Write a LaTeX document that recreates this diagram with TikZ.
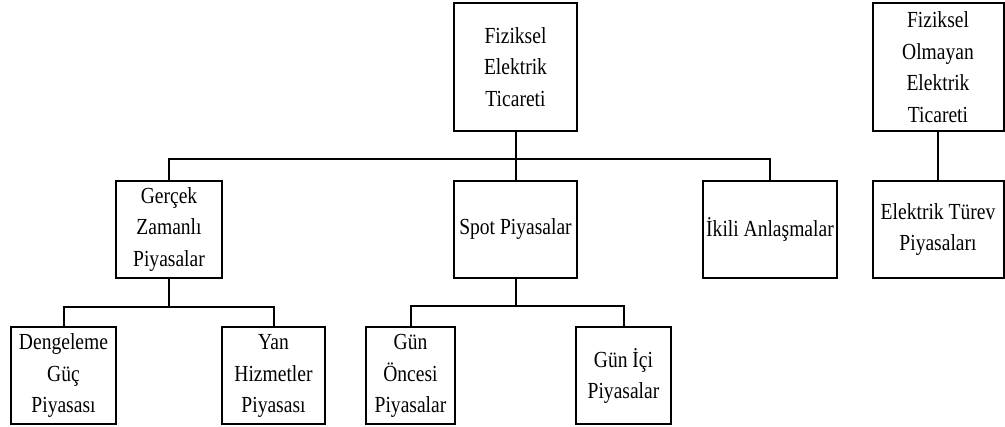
\documentclass[tikz,border=0pt]{standalone}
\usepackage{fontspec}
\setmainfont[FakeStretch=0.85]{Liberation Serif}
\begin{document}
\begin{tikzpicture}[x=1pt,y=-1pt,
  box/.style={draw=black, line width=2pt, inner sep=0pt, align=center,
    font=\fontsize{23}{31.5}\selectfont},
  link/.style={draw=black, line width=2pt}]
\useasboundingbox (0,0) rectangle (1005,427);
% top level
\node[box, minimum width=123pt, minimum height=128pt] (fet) at (515.5,67) {Fiziksel\\Elektrik\\Ticareti};
\node[box, minimum width=131pt, minimum height=128pt] (fole) at (938,67) {Fiziksel\\Olmayan\\Elektrik\\Ticareti};
% second level
\node[box, minimum width=106pt, minimum height=97pt] (gercek) at (169,229.5) {Gerçek\\Zamanlı\\Piyasalar};
\node[box, minimum width=123pt, minimum height=97pt] (spot) at (515.5,229.5) {Spot Piyasalar};
\node[box, minimum width=134pt, minimum height=97pt] (ikili) at (770,229.5) {İkili Anlaşmalar};
\node[box, minimum width=131pt, minimum height=97pt] (turev) at (938,229.5) {Elektrik Türev\\Piyasaları};
% third level
\node[box, minimum width=105pt, minimum height=97pt] (denge) at (63.5,376) {Dengeleme\\Güç\\Piyasası};
\node[box, minimum width=103pt, minimum height=97pt] (yan) at (273.5,376) {Yan\\Hizmetler\\Piyasası};
\node[box, minimum width=89pt, minimum height=97pt] (once) at (410.5,376) {Gün\\Öncesi\\Piyasalar};
\node[box, minimum width=95pt, minimum height=97pt] (ici) at (623.5,376) {Gün İçi\\Piyasalar};
% bus junctions
\coordinate (busA) at (515.5,159);
\coordinate (busB) at (169,307);
\coordinate (busC) at (515.5,306);
% connectors
\draw[link] (fet.south) -- (spot.north);
\draw[link] (gercek.north) |- (busA) -| (ikili.north);
\draw[link] (fole.south) -- (turev.north);
\draw[link] (gercek.south) -- (busB);
\draw[link] (denge.north) |- (busB) -| (yan.north);
\draw[link] (spot.south) -- (busC);
\draw[link] (once.north) |- (busC) -| (ici.north);
\end{tikzpicture}
\end{document}
